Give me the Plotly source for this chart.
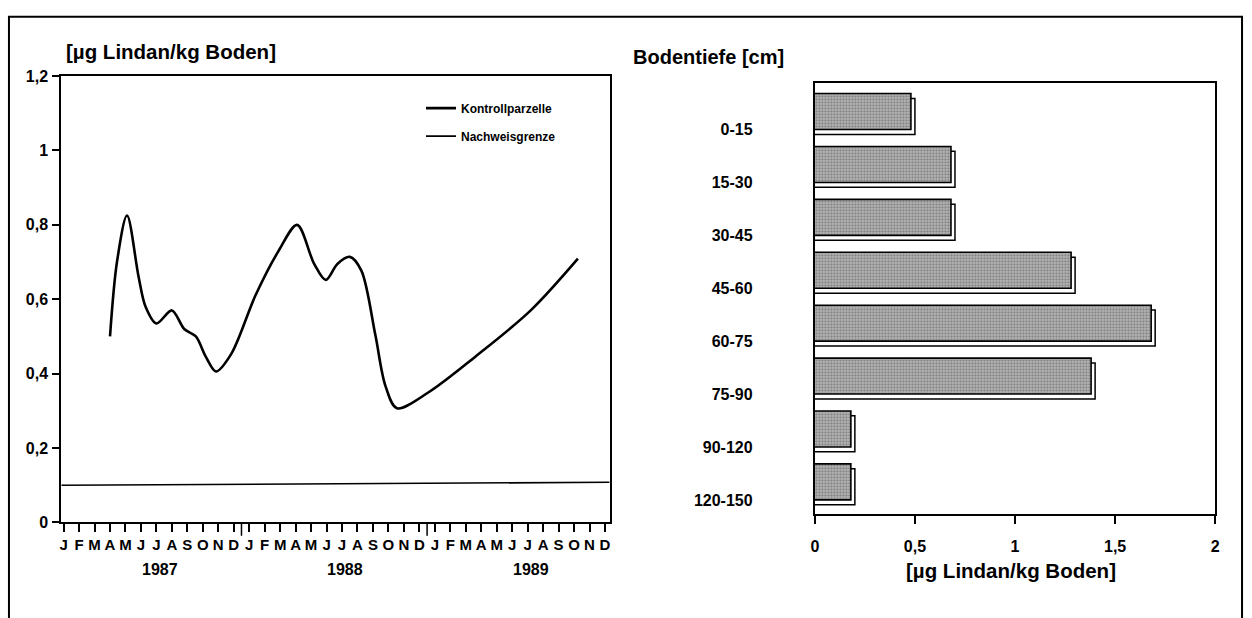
import plotly.graph_objects as go

# ---------------- data ----------------
# left chart: month index 0 = January 1987
month_letters = ["J", "F", "M", "A", "M", "J", "J", "A", "S", "O", "N", "D"]
years = ["1987", "1988", "1989"]
curve_month = [3.0, 3.45, 4.1, 4.85, 5.3, 6.0, 7.0, 7.8, 8.55, 9.2, 9.85, 10.85,
               12.4, 13.9, 15.1, 16.2, 16.95, 17.7, 18.5, 19.25, 20.15, 20.8,
               21.55, 23.6, 26.6, 30.2, 33.25]
curve_value = [0.50, 0.70, 0.825, 0.66, 0.58, 0.535, 0.57, 0.52, 0.50, 0.445,
               0.406, 0.454, 0.61, 0.73, 0.80, 0.695, 0.652, 0.695, 0.714,
               0.677, 0.505, 0.368, 0.307, 0.35, 0.445, 0.57, 0.709]
limit_month = [-0.15, 35.3]
limit_value = [0.100, 0.108]

# right chart
depth_labels = ["0-15", "15-30", "30-45", "45-60", "60-75", "75-90", "90-120", "120-150"]
depth_values = [0.50, 0.70, 0.70, 1.30, 1.70, 1.40, 0.20, 0.20]

# ---------------- layout helpers ----------------
W, H = 1252, 618
def px(p):
    return p / W
def py(p):
    return 1 - p / H

FONT = "Liberation Sans, Arial, Helvetica, sans-serif"
BF = dict(family=FONT, color="black", weight="bold")

fig = go.Figure()

# ---- left chart traces ----
fig.add_trace(go.Scatter(
    x=curve_month, y=curve_value, mode="lines", name="Kontrollparzelle",
    line=dict(color="black", width=2.6, shape="spline", smoothing=0.9),
    xaxis="x", yaxis="y", legendgroup="a"))
fig.add_trace(go.Scatter(
    x=limit_month, y=limit_value, mode="lines", name="Nachweisgrenze",
    line=dict(color="black", width=1.6),
    xaxis="x", yaxis="y", legendgroup="b"))

# ---- right chart traces (3D-like bars) ----
pos = list(range(len(depth_labels)))
fig.add_trace(go.Bar(
    orientation="h", y=[k + 0.092 for k in pos], x=[v + 0.005 for v in depth_values],
    base=-0.005, width=0.68, xaxis="x2", yaxis="y2", showlegend=False,
    marker=dict(color="white", line=dict(color="black", width=1.5))))
fig.add_trace(go.Bar(
    orientation="h", y=pos, x=[v + 0.005 for v in depth_values],
    base=-0.025, width=0.68, xaxis="x2", yaxis="y2", showlegend=False,
    marker=dict(color="#a8a8a8", line=dict(color="black", width=1.6),
                pattern=dict(shape=".", fgcolor="#404040", bgcolor="#b4b4b4",
                             size=3, solidity=0.4))))

month_ticktext = month_letters * 3
shapes = []
# year dividers below left x axis
for i in range(1, len(years)):
    xd = 12 * i - 0.5
    shapes.append(dict(type="line", xref="x", yref="y domain", x0=xd, x1=xd,
                       y0=0, y1=-0.03, line=dict(color="black", width=1.5)))
# outer frame
shapes.append(dict(type="rect", xref="paper", yref="paper", x0=px(5), x1=px(1247),
                   y0=py(650), y1=py(9), line=dict(color="black", width=2)))

annotations = []
for i, yr in enumerate(years):
    annotations.append(dict(x=12 * i + 6.2, y=py(577), xref="x", yref="paper",
                            xanchor="center", yanchor="middle",
                            text=yr, showarrow=False, font=dict(size=16, **BF)))
annotations.append(dict(x=px(60), y=py(45), xref="paper", yref="paper",
                        xanchor="left", yanchor="middle", text="[µg Lindan/kg Boden]",
                        showarrow=False, font=dict(size=20.5, **BF)))
annotations.append(dict(x=px(632), y=py(50), xref="paper", yref="paper",
                        xanchor="left", yanchor="middle", text="Bodentiefe [cm]",
                        showarrow=False, font=dict(size=20, **BF)))
annotations.append(dict(x=px(1014), y=py(578), xref="paper", yref="paper",
                        xanchor="center", yanchor="middle", text="[µg Lindan/kg Boden]",
                        showarrow=False, font=dict(size=20.5, **BF)))

fig.update_layout(
    width=W, height=H, margin=dict(l=0, r=0, t=0, b=0),
    paper_bgcolor="white", plot_bgcolor="white",
    separators=",.", barmode="overlay",
    font=dict(family=FONT, color="black"),
    shapes=shapes, annotations=annotations,
    legend=dict(x=px(420), y=py(88), xanchor="left", yanchor="top",
                font=dict(size=12, **BF), bgcolor="rgba(0,0,0,0)",
                tracegroupgap=9, itemwidth=30),
    # left chart
    xaxis=dict(domain=[px(57.7), px(610)], range=limit_month, showgrid=False,
               zeroline=False, showline=True, linecolor="black", linewidth=2,
               mirror=True, ticks="outside", ticklen=8, tickwidth=1.5,
               tickcolor="black", tickvals=list(range(36)), ticktext=month_ticktext,
               tickfont=dict(size=15, **BF), ticklabelstandoff=0),
    yaxis=dict(domain=[py(529), py(70)], range=[0, 1.2], showgrid=False,
               zeroline=False, showline=True, linecolor="black", linewidth=2,
               mirror=True, ticks="outside", ticklen=7, tickwidth=2,
               tickcolor="black", tickvals=[0, 0.2, 0.4, 0.6, 0.8, 1.0, 1.2],
               tickfont=dict(size=16, **BF), ticklabelstandoff=1),
    yaxis3=dict(overlaying="y", matches="y", anchor="x", side="left",
                showgrid=False, zeroline=False, showline=False, ticks="inside",
                ticklen=6, tickwidth=2, tickcolor="black",
                tickvals=[0, 0.2, 0.4, 0.6, 0.8, 1.0, 1.2], showticklabels=False),
    # right chart
    xaxis2=dict(domain=[px(816.7), px(1220)], range=[0, 2], anchor="y2",
                showgrid=False, zeroline=False, showline=True, linecolor="black",
                linewidth=2, mirror=True, ticks="outside", ticklen=8, tickwidth=2,
                tickcolor="black", tickvals=[0, 0.5, 1, 1.5, 2],
                tickfont=dict(size=16, **BF), ticklabelstandoff=9),
    xaxis4=dict(overlaying="x2", matches="x2", anchor="y2", side="bottom",
                showgrid=False, zeroline=False, showline=False, ticks="inside",
                ticklen=8, tickwidth=2, tickcolor="black",
                tickvals=[0, 0.5, 1, 1.5, 2], showticklabels=False),
    yaxis2=dict(domain=[py(520), py(77)], range=[7.601, -0.542], anchor="x2",
                showgrid=False, zeroline=False, showline=True, linecolor="black",
                linewidth=2, mirror=True, ticks="", tickvals=[k + 0.34 for k in pos],
                ticktext=depth_labels, tickfont=dict(size=16, **BF),
                ticklabelstandoff=57),
)

fig.write_html("out.html", config={"displayModeBar": False},
               post_script="document.body.style.margin='0px';")
